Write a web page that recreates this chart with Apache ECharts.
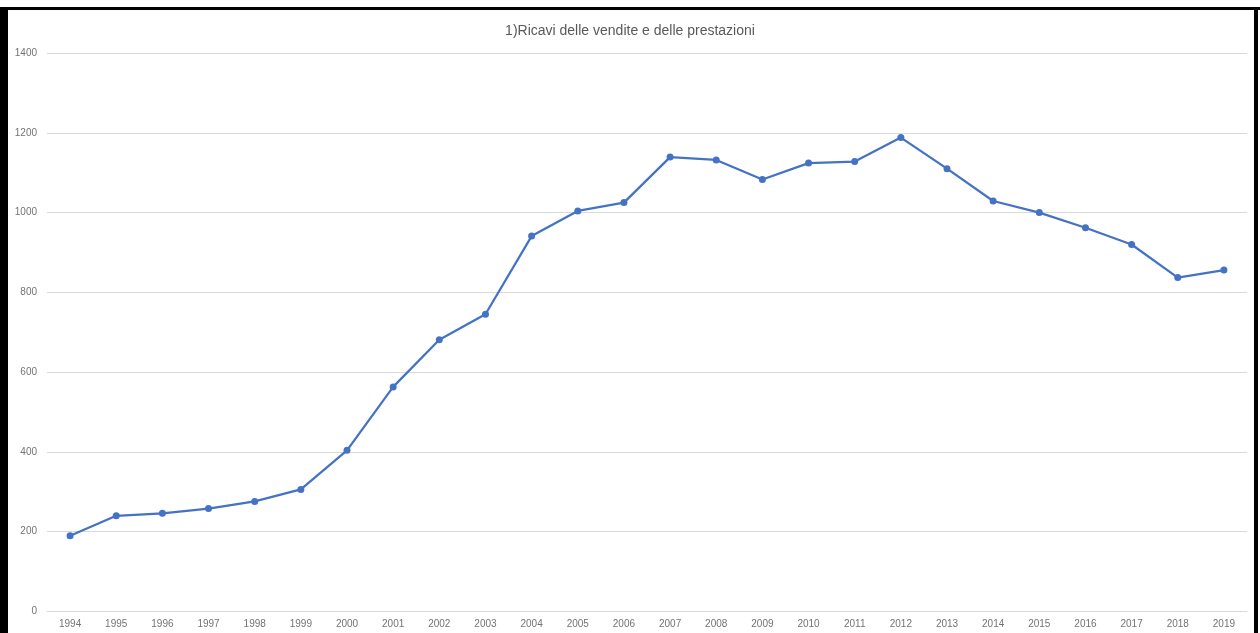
<!DOCTYPE html>
<html>
<head>
<meta charset="utf-8">
<script src="https://cdn.jsdelivr.net/npm/echarts@6/dist/echarts.min.js"></script>
<style>
  html, body { margin: 0; padding: 0; background: #fff; }
  #main { width: 1260px; height: 633px; }
</style>
</head>
<body>
<div id="main"></div>
<script>
var myChart = echarts.init(document.getElementById('main'));

var anni = ['1994', '1995', '1996', '1997', '1998', '1999', '2000', '2001', '2002', '2003',
    '2004', '2005', '2006', '2007', '2008', '2009', '2010', '2011', '2012', '2013',
    '2014', '2015', '2016', '2017', '2018', '2019'];
var ricavi = [190, 240, 246, 258, 276, 306, 404, 563, 681, 745,
    941, 1004, 1025, 1139, 1132, 1083, 1124, 1128, 1188, 1110,
    1029, 1000, 962, 920, 837, 856];

var titolo = '1)Ricavi delle vendite e delle prestazioni';

option = {
    backgroundColor: '#fff',
    animation: false,
    title: {
        text: titolo,
        left: 'center',
        top: 19,
        textStyle: {
            color: '#595959',
            fontSize: 14,
            fontWeight: 'normal',
            fontFamily: 'Liberation Sans'
        }
    },
    // cornice nera dello screenshot
    graphic: [
        { type: 'rect', shape: { x: 0, y: 7, width: 1260, height: 3 }, style: { fill: '#000' } },
        { type: 'rect', shape: { x: 0, y: 7, width: 8, height: 626 }, style: { fill: '#000' } },
        { type: 'rect', shape: { x: 1254, y: 7, width: 4, height: 626 }, style: { fill: '#000' } }
    ],
    grid: {
        left: 47,
        right: 13,
        top: 53,
        bottom: 21.5,
        containLabel: false
    },
    xAxis: {
        type: 'category',
        data: anni,
        boundaryGap: true,
        axisLine: { lineStyle: { color: '#d9d9d9', width: 1 } },
        axisTick: { show: false },
        axisLabel: {
            color: '#737373',
            fontSize: 10,
            margin: 8,
            interval: 0,
            fontFamily: 'Liberation Sans'
        }
    },
    yAxis: {
        type: 'value',
        min: 0,
        max: 1400,
        interval: 200,
        axisLine: { show: false },
        axisTick: { show: false },
        axisLabel: {
            color: '#737373',
            fontSize: 10,
            margin: 10,
            fontFamily: 'Liberation Sans',
            formatter: function (v) { return String(v); }
        },
        splitLine: { lineStyle: { color: '#d9d9d9', width: 1 } }
    },
    series: [
        {
            name: titolo,
            type: 'line',
            data: ricavi,
            symbol: 'circle',
            symbolSize: 7,
            lineStyle: { color: '#4472C4', width: 2.25 },
            itemStyle: { color: '#4472C4' }
        }
    ]
};

myChart.setOption(option);
</script>
</body>
</html>
